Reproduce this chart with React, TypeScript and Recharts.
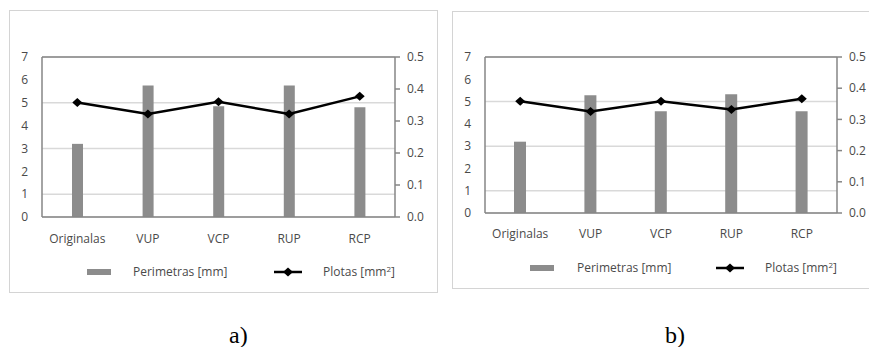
import { ComposedChart, Bar, Line, XAxis, YAxis, CartesianGrid, ReferenceLine } from 'recharts';

const categories = ['Originalas', 'VUP', 'VCP', 'RUP', 'RCP'];
const perimetrasA = [3.2, 5.75, 4.85, 5.75, 4.8];
const plotasA = [0.358, 0.322, 0.36, 0.322, 0.377];
const perimetrasB = [3.2, 5.28, 4.57, 5.33, 4.57];
const plotasB = [0.358, 0.325, 0.358, 0.332, 0.366];
const leftTicks = [0, 1, 2, 3, 4, 5, 6, 7];
const rightTicks = [0, 0.1, 0.2, 0.3, 0.4, 0.5];

const FONT = '"Open Sans", sans-serif';
const TEXT = '#4a4a4a';
const AXIS = '#868686';
const GRID = '#d9d9d9';
const BAR = '#8c8c8c';

const Diamond = (props: any) => {
  const { cx, cy } = props;
  if (cx == null || cy == null) return null;
  return <polygon points={`${cx - 5},${cy} ${cx},${cy - 4.5} ${cx + 5},${cy} ${cx},${cy + 4.5}`} fill="#000" />;
};

type PanelProps = {
  left: number;
  bars: number[];
  line: number[];
  margin: { top: number; right: number; bottom: number; left: number };
  barSize: number;
  xMargin: number;
};

function Panel({ left, bars, line, margin, barSize, xMargin }: PanelProps) {
  const data = categories.map((name, i) => ({ name, perimetras: bars[i], plotas: line[i] }));
  return (
    <div style={{ position: 'absolute', left, top: 0 }}>
      <ComposedChart width={440} height={300} data={data} margin={margin}>
        <CartesianGrid yAxisId="l" horizontal vertical={false} stroke={GRID} strokeWidth={1.5} />
        <XAxis
          dataKey="name"
          axisLine={{ stroke: AXIS, strokeWidth: 1.5 }}
          tickLine={false}
          tickSize={0}
          tickMargin={xMargin}
          height={30}
          tick={{ fontSize: 12, fill: TEXT, fontFamily: FONT }}
          interval={0}
        />
        <YAxis
          yAxisId="l"
          domain={[0, 7]}
          ticks={leftTicks}
          width={30}
          axisLine={{ stroke: AXIS, strokeWidth: 1.5 }}
          tickLine={false}
          tickSize={0}
          tickMargin={14}
          tick={{ fontSize: 12, fill: TEXT, fontFamily: FONT }}
        />
        <YAxis
          yAxisId="r"
          orientation="right"
          domain={[0, 0.5]}
          ticks={rightTicks}
          width={40}
          axisLine={{ stroke: AXIS, strokeWidth: 1.5 }}
          tickLine={{ stroke: AXIS, strokeWidth: 1.5 }}
          tickSize={5}
          tickMargin={7}
          tickFormatter={(v: number) => v.toFixed(1)}
          tick={{ fontSize: 12, fill: TEXT, fontFamily: FONT }}
        />
        <ReferenceLine yAxisId="l" y={7} stroke={AXIS} strokeWidth={1.5} />
        <Bar yAxisId="l" dataKey="perimetras" fill={BAR} barSize={barSize} isAnimationActive={false} />
        <Line
          yAxisId="r"
          dataKey="plotas"
          stroke="#000"
          strokeWidth={2.5}
          dot={<Diamond />}
          activeDot={false}
          type="linear"
          isAnimationActive={false}
        />
      </ComposedChart>
    </div>
  );
}

function LegendRow({ swatchX, textX, lineX, plotX, y }: { swatchX: number; textX: number; lineX: number; plotX: number; y: number }) {
  const label = { position: 'absolute' as const, top: y - 9, fontSize: 12, lineHeight: '18px', color: TEXT, fontFamily: FONT, whiteSpace: 'nowrap' as const };
  return (
    <>
      <div style={{ position: 'absolute', left: swatchX, top: y - 3, width: 24, height: 6, background: BAR }} />
      <div style={{ ...label, left: textX }}>Perimetras [mm]</div>
      <svg style={{ position: 'absolute', left: lineX, top: y - 6 }} width={28} height={12}>
        <line x1={0} y1={6} x2={28} y2={6} stroke="#000" strokeWidth={2.5} />
        <polygon points="9,6 14,1.5 19,6 14,10.5" fill="#000" />
      </svg>
      <div style={{ ...label, left: plotX }}>
        Plotas [mm<sup style={{ fontSize: 8, verticalAlign: 'top', lineHeight: '12px' }}>2</sup>]
      </div>
    </>
  );
}

export default function App() {
  const caption = { position: 'absolute' as const, top: 320, fontFamily: '"Liberation Serif", serif', fontSize: 24, lineHeight: '30px', color: '#000' };
  return (
    <div style={{ position: 'absolute', left: 0, top: 0, width: 869, height: 347, overflow: 'hidden', background: '#fff' }}>
      <div style={{ position: 'absolute', left: 9, top: 10, width: 427, height: 281, border: '1.5px solid #d4d4d4' }} />
      <div style={{ position: 'absolute', left: 452, top: 11, width: 440, height: 276, border: '1.5px solid #d4d4d4' }} />
      <Panel
        left={0}
        bars={perimetrasA}
        line={plotasA}
        margin={{ top: 57, right: 5, bottom: 53, left: 12 }}
        barSize={11}
        xMargin={17}
      />
      <Panel
        left={440}
        bars={perimetrasB}
        line={plotasB}
        margin={{ top: 57, right: 3, bottom: 57, left: 15 }}
        barSize={12}
        xMargin={16}
      />
      <LegendRow swatchX={87} textX={133} lineX={274} plotX={323} y={272} />
      <LegendRow swatchX={530} textX={577} lineX={716} plotX={765} y={268} />
      <div style={{ ...caption, left: 229 }}>a)</div>
      <div style={{ ...caption, left: 665 }}>b)</div>
    </div>
  );
}
